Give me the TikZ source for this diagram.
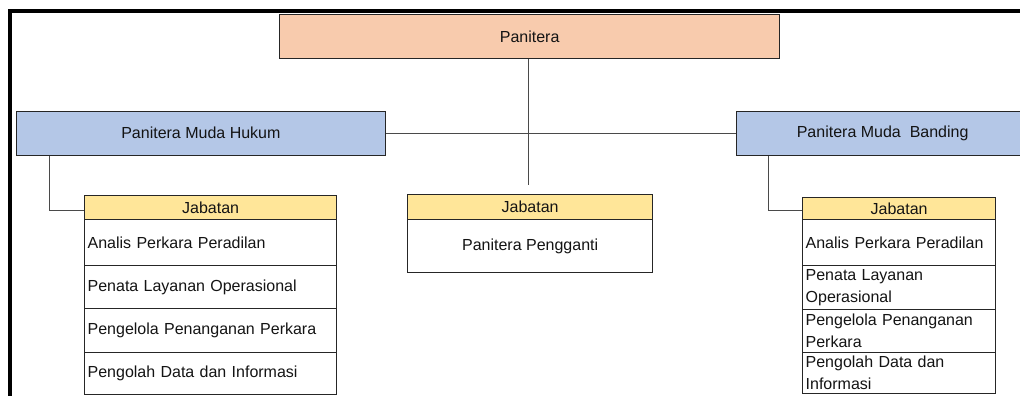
\documentclass[tikz,border=0pt]{standalone}
\usepackage{fontspec}
\setmainfont{Liberation Sans}
\definecolor{peach}{HTML}{F8CBAD}
\definecolor{lblue}{HTML}{B4C7E7}
\definecolor{lyellow}{HTML}{FFE699}
\definecolor{txt}{HTML}{141414}
\definecolor{conn}{HTML}{4A4A4A}
\begin{document}
\begin{tikzpicture}[x=1pt,y=-1pt,
  box/.style={draw=black!85, line width=1.3pt, inner sep=0pt, anchor=north west,
    text=txt, font=\fontsize{16}{22}\selectfont},
  rowbox/.style={box, fill=white, inner xsep=3pt, align=left},
  conline/.style={draw=conn, line width=1pt}
]
\useasboundingbox (0,0) rectangle (1020,396);
\fill[white] (0,0) rectangle (1020,396);
% frame
\draw[line width=4.5pt, line join=miter] (10,420) -- (10,11) -- (1040,11);

% top-level boxes
\node[box, fill=peach, minimum width=500pt, minimum height=44pt] (pan) at (279,14) {Panitera};
\node[box, fill=lblue, minimum width=369.5pt, minimum height=44pt] (pmh) at (15.5,110.5) {Panitera Muda Hukum};
\node[box, fill=lblue, minimum width=292pt, minimum height=44pt] (pmb) at (736,111) {Panitera Muda\ \ Banding};

% left Jabatan table
\node[box, fill=lyellow, minimum width=252pt, minimum height=24pt] (ljh) at (84,195) {Jabatan};
\node[rowbox, text width=246pt, minimum height=46pt] (l1) at (84,219) {Analis Perkara Peradilan};
\node[rowbox, text width=246pt, minimum height=43pt] (l2) at (84,265) {Penata Layanan Operasional};
\node[rowbox, text width=246pt, minimum height=44pt] (l3) at (84,308) {Pengelola Penanganan Perkara};
\node[rowbox, text width=246pt, minimum height=42pt] (l4) at (84,352) {Pengolah Data dan Informasi};

% middle Jabatan table
\node[box, fill=lyellow, minimum width=245pt, minimum height=25pt] (mjh) at (407,194) {Jabatan};
\node[box, fill=white, minimum width=245pt, minimum height=53pt] (m1) at (407,219) {Panitera Pengganti};

% right Jabatan table
\node[box, fill=lyellow, minimum width=193pt, minimum height=22pt] (rjh) at (802,197) {Jabatan};
\node[rowbox, text width=187pt, minimum height=46pt] (r1) at (802,219) {Analis Perkara Peradilan};
\node[rowbox, text width=187pt, minimum height=44pt] (r2) at (802,265) {Penata Layanan\\Operasional};
\node[rowbox, text width=187pt, minimum height=43pt] (r3) at (802,309) {Pengelola Penanganan\\Perkara};
\node[rowbox, text width=187pt, minimum height=41pt] (r4) at (802,352) {Pengolah Data dan\\Informasi};

% connectors
\coordinate (midend) at (528,185);
\draw[conline] (pan.south -| midend) -- (midend);
\draw[conline] (pmh.east) -- (pmh.east -| pmb.west);
\draw[conline] ([xshift=34pt]pmh.south west) |- ([yshift=-2.5pt]ljh.west);
\draw[conline] ([xshift=32pt]pmb.south west) |- ([yshift=-2pt]rjh.west);
\end{tikzpicture}
\end{document}
